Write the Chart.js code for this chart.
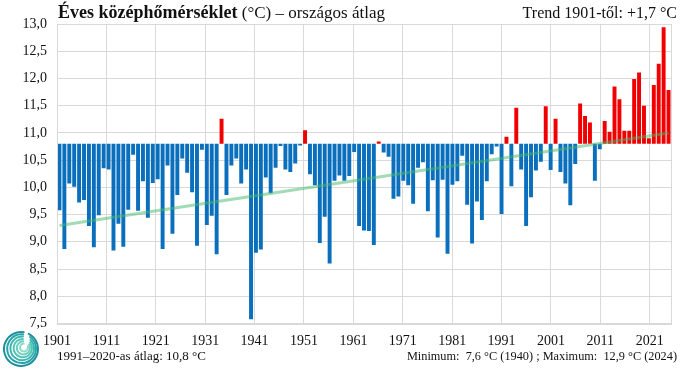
<!DOCTYPE html>
<html><head><meta charset="utf-8">
<script src="https://cdn.jsdelivr.net/npm/chart.js@4/dist/chart.umd.min.js"></script>
<style>html,body{margin:0;padding:0;background:#fff;} canvas{display:block;}</style>
</head><body>
<canvas id="c" width="690" height="371"></canvas>
<script>
// ---- data ----
const years = [];
for (let y = 1901; y <= 2025; y++) years.push(String(y));

const temps = [
  9.58, 8.87, 10.07, 10.01, 9.72, 9.77, 9.29, 8.90, 9.49, 10.35,   // 1901-1910
  10.33, 8.84, 9.33, 8.91, 9.59, 10.60, 9.57, 10.11, 9.44, 10.08,  // 1911-1920
  10.15, 8.87, 10.40, 9.15, 9.86, 10.53, 10.27, 9.91, 8.93, 10.69, // 1921-1930
  9.31, 9.48, 8.77, 11.26, 9.86, 10.40, 10.53, 10.07, 10.33, 7.58, // 1931-1940
  8.80, 8.86, 10.18, 9.89, 10.36, 10.76, 10.33, 10.28, 10.44, 10.77, // 1941-1950
  11.05, 10.24, 10.04, 8.98, 9.46, 8.60, 10.12, 10.22, 10.12, 10.21, // 1951-1960
  10.65, 9.29, 9.21, 9.20, 8.94, 10.84, 10.64, 10.56, 9.79, 9.83,  // 1961-1970
  10.12, 10.04, 9.70, 10.36, 10.46, 9.56, 10.13, 9.08, 10.14, 8.78, // 1971-1980
  10.05, 10.11, 10.58, 9.68, 8.97, 9.74, 9.40, 10.11, 10.61, 10.75, // 1981-1990
  9.51, 10.93, 10.02, 11.46, 10.33, 9.29, 9.82, 10.31, 10.47, 11.49, // 1991-2000
  10.32, 11.26, 10.28, 10.07, 9.67, 10.43, 11.54, 11.31, 11.19, 10.12, // 2001-2010
  10.70, 11.22, 11.02, 11.85, 11.62, 11.04, 11.04, 11.99, 12.11, 11.50, // 2011-2020
  10.90, 11.88, 12.27, 12.94, 11.79                                     // 2021-2025
];
const baseline = 10.8;          // 1991–2020 average
const trendStart = 9.3;         // trend value 1901
const trendEnd = 11.0;          // trend value at end
const xTickYears = [1901, 1911, 1921, 1931, 1941, 1951, 1961, 1971, 1981, 1991, 2001, 2011, 2021];
const xAxisMin = 1901, xAxisMax = 2025.3;
const yMin = 7.5, yMax = 13.0, yStep = 0.5;

const titleBold = 'Éves középhőmérséklet';
const titleRest = ' (°C) – országos átlag';
const trendText = 'Trend 1901-től: +1,7 °C';
const avgText = '1991–2020-as átlag: 10,8 °C';
const minMaxText = 'Minimum:  7,6 °C (1940) ; Maximum:  12,9 °C (2024)';

// ---- styles ----
const BLUE = '#0A6FBD', RED = '#F00000';
const GRID = '#D9D9D9';
const SERIF = '"Liberation Serif", "DejaVu Serif", serif';

const barData = temps.map(v => [baseline, v]);
const barColors = temps.map(v => v >= baseline ? RED : BLUE);
const trendData = years.map((_, i) => i === 0 ? trendStart : (i === years.length - 1 ? trendEnd : null));

const decor = {
  id: 'decor',
  afterDraw(chart) {
    const ctx = chart.ctx, a = chart.chartArea;
    ctx.save();
    // plot border
    ctx.strokeStyle = GRID; ctx.lineWidth = 1;
    ctx.strokeRect(Math.round(a.left) + 0.5, Math.round(a.top) + 0.5, Math.round(a.right - a.left), Math.round(a.bottom - a.top));
    // title
    ctx.fillStyle = '#111';
    ctx.textBaseline = 'alphabetic';
    ctx.font = 'bold 18px ' + SERIF;
    ctx.textAlign = 'left';
    ctx.fillText(titleBold, 58, 18);
    const w = ctx.measureText(titleBold).width;
    ctx.font = '17px ' + SERIF;
    ctx.fillText(titleRest, 58 + w, 18);
    ctx.font = '16px ' + SERIF;
    ctx.textAlign = 'right';
    ctx.fillText(trendText, 677, 18);
    // bottom texts
    ctx.font = '13px ' + SERIF;
    ctx.textAlign = 'left';
    ctx.fillText(avgText, 57, 360);
    ctx.font = '12.3px ' + SERIF;
    ctx.textAlign = 'right';
    ctx.fillText(minMaxText, 677, 360);
    // logo (swirl)
    const cx = 21, cy = 349;
    const cols = ['#1C8F9C', '#2AA3A8', '#3BB5B0', '#52C4B6', '#6DD0BE', '#8ADBC8'];
    ctx.lineCap = 'round';
    for (let k = 0; k < 6; k++) {
      ctx.beginPath();
      ctx.strokeStyle = cols[k];
      ctx.lineWidth = 2;
      const r = 17 - k * 2.6;
      ctx.arc(cx + k * 0.6, cy - k * 0.3, r, -0.35 * Math.PI + k * 0.15, 1.55 * Math.PI - k * 0.05);
      ctx.stroke();
    }
    ctx.restore();
  }
};

new Chart(document.getElementById('c'), {
  data: {
    labels: years,
    datasets: [
      {
        type: 'line', data: trendData, spanGaps: true, xAxisID: 'x', yAxisID: 'y',
        borderColor: 'rgba(70,185,110,0.5)', borderWidth: 3, pointRadius: 0, order: 0
      },
      {
        type: 'bar', data: barData, xAxisID: 'x', yAxisID: 'y',
        backgroundColor: barColors, borderWidth: 0,
        barPercentage: 0.8, categoryPercentage: 1.0, order: 1
      }
    ]
  },
  options: {
    responsive: false, animation: false, devicePixelRatio: 1,
    layout: { padding: { left: 0, right: 19, top: 24, bottom: 0 } },
    plugins: { legend: { display: false }, tooltip: { enabled: false }, title: { display: false } },
    scales: {
      x: { type: 'category', display: false, offset: true },
      xg: {
        type: 'linear', position: 'bottom', min: xAxisMin, max: xAxisMax,
        afterBuildTicks(s) { s.ticks = xTickYears.map(v => ({ value: v })); },
        afterFit(s) { s.height = 47.5; },
        grid: { color: GRID, drawTicks: false, lineWidth: 1 },
        border: { display: true, color: GRID },
        ticks: { autoSkip: false, maxRotation: 0, padding: 9, color: '#111', font: { family: SERIF, size: 14 },
                 callback: v => String(v) }
      },
      y: {
        min: yMin, max: yMax,
        afterBuildTicks(s) { const t = []; for (let v = yMin; v <= yMax + 1e-9; v += yStep) t.push({ value: Math.round(v * 10) / 10 }); s.ticks = t; },
        afterFit(s) { s.width = 57; },
        grid: { color: GRID, drawTicks: false, lineWidth: 1 },
        border: { display: true, color: GRID },
        ticks: { padding: 10, color: '#111', font: { family: SERIF, size: 14 },
                 callback: v => Number(v).toFixed(1).replace('.', ',') }
      }
    }
  },
  plugins: [decor]
});
</script>
</body></html>
